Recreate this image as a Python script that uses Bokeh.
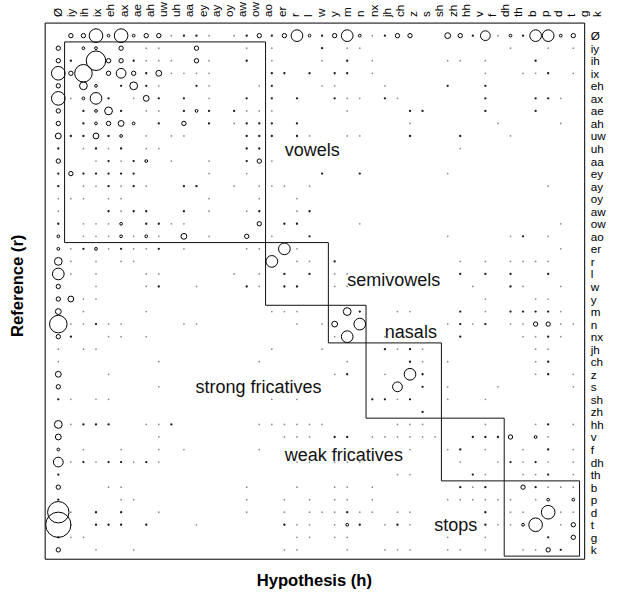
import math
from bokeh.plotting import figure
from bokeh.models import Range1d, ColumnDataSource
from bokeh.embed import file_html
from bokeh.resources import INLINE
from bokeh.core.properties import value

# ---------------- data ----------------
phones = ["Ø", "iy", "ih", "ix", "eh", "ax", "ae", "ah", "uw", "uh", "aa", "ey",
          "ay", "oy", "aw", "ow", "ao", "er", "r", "l", "w", "y", "m", "n", "nx",
          "jh", "ch", "z", "s", "sh", "zh", "hh", "v", "f", "dh", "th", "b", "p",
          "d", "t", "g", "k"]

group_names = ["vowels", "semivowels", "nasals", "strong fricatives",
               "weak fricatives", "stops"]
group_first = [1, 17, 22, 25, 31, 36]
group_last = [16, 21, 24, 30, 35, 41]

# approximate confusion count for each size code
level_counts = {".": 1, ":": 3, "o": 8, "O": 20, "3": 36, "4": 64, "5": 100,
                "6": 144, "7": 196, "8": 256, "9": 324, "A": 400, "B": 484,
                "C": 576, "D": 676}

# one string per reference phone (row), one character per hypothesis phone
# (column); '|' only separates blocks of ten columns
confusion = [
    " OO7o7oOO.|::. .:O:O6|o:O6o.:OO | 3O:5.o:66|oO",
    "O oo O .. | O   . .  | : ..     |      .  .| .",
    "O: AOO:...| O.  : .  | . : .    | .. .   : |  ",
    "7O9 O5O:3.|...    :: |: :: .    |    .  ..:| .",
    "O 4o :4:. | :.   .:  | ..   .   | :  :     |  ",
    "7.o6: .3: |: .  : : :|  :.. :.  |    :   ::|. ",
    "O :o4: .. |:o: :...  |   .    ::|    :   : |  ",
    "O :oO3o : |O : .::: :|        . |     .    |. ",
    "3::3:o . .|.    ::: :|.  ..   : |  :   .   |  ",
    ": .:.: .. |     ::   |          |  .       |  ",
    "O  .:.:o .|  .  :O.  |          |          |  ",
    ":O:::::   |  .  .    | :  :     | .        |  ",
    ": ..:.:.  |::  . ... |.         |         .|  ",
    "... ..    |  .   .  .|          |          |  ",
    ".   :.::  |: .  .:  .|:         |          |  ",
    ": ...o ::.|.     O ::|    .     |          |. ",
    "o ...o.o. |3 .  O .  |:         | .    .: .|  ",
    "o.:o.:..: |.    .. 6.|          |          |. ",
    "4. . ..   |       6 .|. :       |  . . ....|  ",
    "6. .   .. |    . . : |: ..      |  : : :  :|  ",
    "O  .   .: | .   :. ::|  ..      |   .  :.  |. ",
    "O3..      |          |          |    .   ..|  ",
    "3 .    .  |       ...|   4:  .. |  : . ::::|. ",
    "9..:..    |..       .| .3 6     | .:.: ..OO|..",
    "O:  .. .  |          |  .6  .   |  :    ..:|. ",
    ". ..      |       .  | .    :.:.|        ..|  ",
    ".       . |      .   |   .    :.| .      .:|  ",
    "3   .     |          |  .:  . 6:|        .:| .",
    "O       . |          |       5 :| .   .    | .",
    ":. ..     |       . .|     ::.: | .  .     |  ",
    "          |          |         :|          |  ",
    "4.:::  ..:|      ....|..     ...|    .   .:| .",
    "3       . |        ..|. :: .....|.  :::O o.|  ",
    "o .  .  . |.     .   |        . | .: .  . :| .",
    "5.:.::.:. |         .|. ...     |  .  .:.:.| .",
    ":         |          |       .. |   :.  ..:| .",
    "O   ..    |     .   .|  .. .    |  :.:  O:.|..",
    ":    ..   |     .  . |. .. .    | ...... .o| o",
    "B. : :  . |     .  . |...:.. .. |    : .. 7|..",
    "D. ::: :  | .      :.|. .o: .:. |    :..o7 |.O",
    ":..       |         .|. ..      | .  .    :| O",
    "O  .  .   |        ..|   .  ... | .. .  ..O|: ",
]

# ---------------- layout (pixels of the 634x609 reference, scaled to fit) ----
REF_W, REF_H = 634, 609
W, H = 618, 593
SX, SY = W / REF_W, H / REF_H
COL0_X, COL_STEP = 59.3, 12.886
ROW0_Y, ROW_STEP = 36.1, 12.88
TOP_LAB0_X, TOP_LAB_STEP = 58.3, 13.5
FONT = value("Liberation Sans")


def col_of(X):
    return (X - COL0_X) / COL_STEP


def row_of(Y):
    return (Y - ROW0_Y) / ROW_STEP


def toplab_of(X):
    return (X - TOP_LAB0_X) / TOP_LAB_STEP


def fs(px):
    return "%.1fpx" % (px * SY)


p = figure(width=W, height=H,
           x_range=Range1d(col_of(0), col_of(REF_W)),
           y_range=Range1d(row_of(REF_H), row_of(0)),
           output_backend="svg", toolbar_location=None,
           x_axis_type=None, y_axis_type=None, min_border=0)
p.extra_x_ranges = {"lx": Range1d(toplab_of(0), toplab_of(REF_W))}
p.outline_line_color = None
p.background_fill_color = "white"
p.border_fill_color = "white"

# ---------------- cells ----------------
dot_c, dot_r, dot_n = [], [], []
ring_c, ring_r, ring_n = [], [], []
for r, row in enumerate(confusion):
    cells = row.replace("|", "").ljust(len(phones))[:len(phones)]
    for c, ch in enumerate(cells):
        if ch == " ":
            continue
        n = level_counts[ch]
        if n <= 3:
            dot_c.append(c); dot_r.append(r); dot_n.append(n)
        else:
            ring_c.append(c); ring_r.append(r); ring_n.append(n)

dots = ColumnDataSource(dict(
    x=dot_c, y=dot_r,
    size=[(1.0 + 0.8 * math.sqrt(n)) * SY for n in dot_n],
    color=["#8a8a8a" if n == 1 else "#1a1a1a" for n in dot_n]))
rings = ColumnDataSource(dict(
    x=ring_c, y=ring_r, size=[math.sqrt(n) * SY for n in ring_n]))

p.scatter("x", "y", size="size", source=dots, marker="circle",
          fill_color="color", line_color=None)
p.scatter("x", "y", size="size", source=rings, marker="circle",
          fill_color=None, line_color="black", line_width=1)

# ---------------- boxes ----------------
p.quad(left=[col_of(45.8)], right=[col_of(599.3)],
       top=[row_of(23.2)], bottom=[row_of(573.8)],
       fill_color=None, line_color="black", line_width=1)
p.quad(left=[f - 0.5 for f in group_first], right=[l + 0.5 for l in group_last],
       top=[f - 0.5 for f in group_first], bottom=[l + 0.5 for l in group_last],
       fill_color=None, line_color="#111111", line_width=1)

# ---------------- group labels ----------------
group_label_px = [(291.7, 153.3), (355.7, 287.3), (394.3, 340.0),
                  (200.0, 397.0), (291.7, 467.0), (445.0, 538.5)]
p.text(x=[col_of(px) for px, py in group_label_px],
       y=[row_of(py) for px, py in group_label_px],
       text=group_names, text_font=FONT, text_font_size=fs(18.5),
       text_align="left", text_baseline="alphabetic", text_color="#111111")

# ---------------- phone labels ----------------
idx = list(range(len(phones)))
p.text(x=idx, y=[row_of(17.0)] * len(phones), text=phones, x_range_name="lx",
       angle=math.pi / 2, text_font=FONT, text_font_size=fs(12),
       text_align="left", text_baseline="middle", text_color="black")
p.text(x=[col_of(605.5)] * len(phones), y=idx, text=phones,
       text_font=FONT, text_font_size=fs(12),
       text_align="left", text_baseline="middle", text_color="black")

# ---------------- axis titles ----------------
p.text(x=[col_of(322.0)], y=[row_of(596.0)], text=["Hypothesis (h)"],
       text_font=FONT, text_font_size=fs(17), text_font_style="bold",
       text_align="center", text_baseline="middle", text_color="black")
p.text(x=[col_of(17.5)], y=[row_of(293.0)], text=["Reference (r)"],
       angle=math.pi / 2, text_font=FONT, text_font_size=fs(17),
       text_font_style="bold", text_align="center", text_baseline="middle",
       text_color="black")

open("out.html", "w").write(file_html(p, INLINE))
